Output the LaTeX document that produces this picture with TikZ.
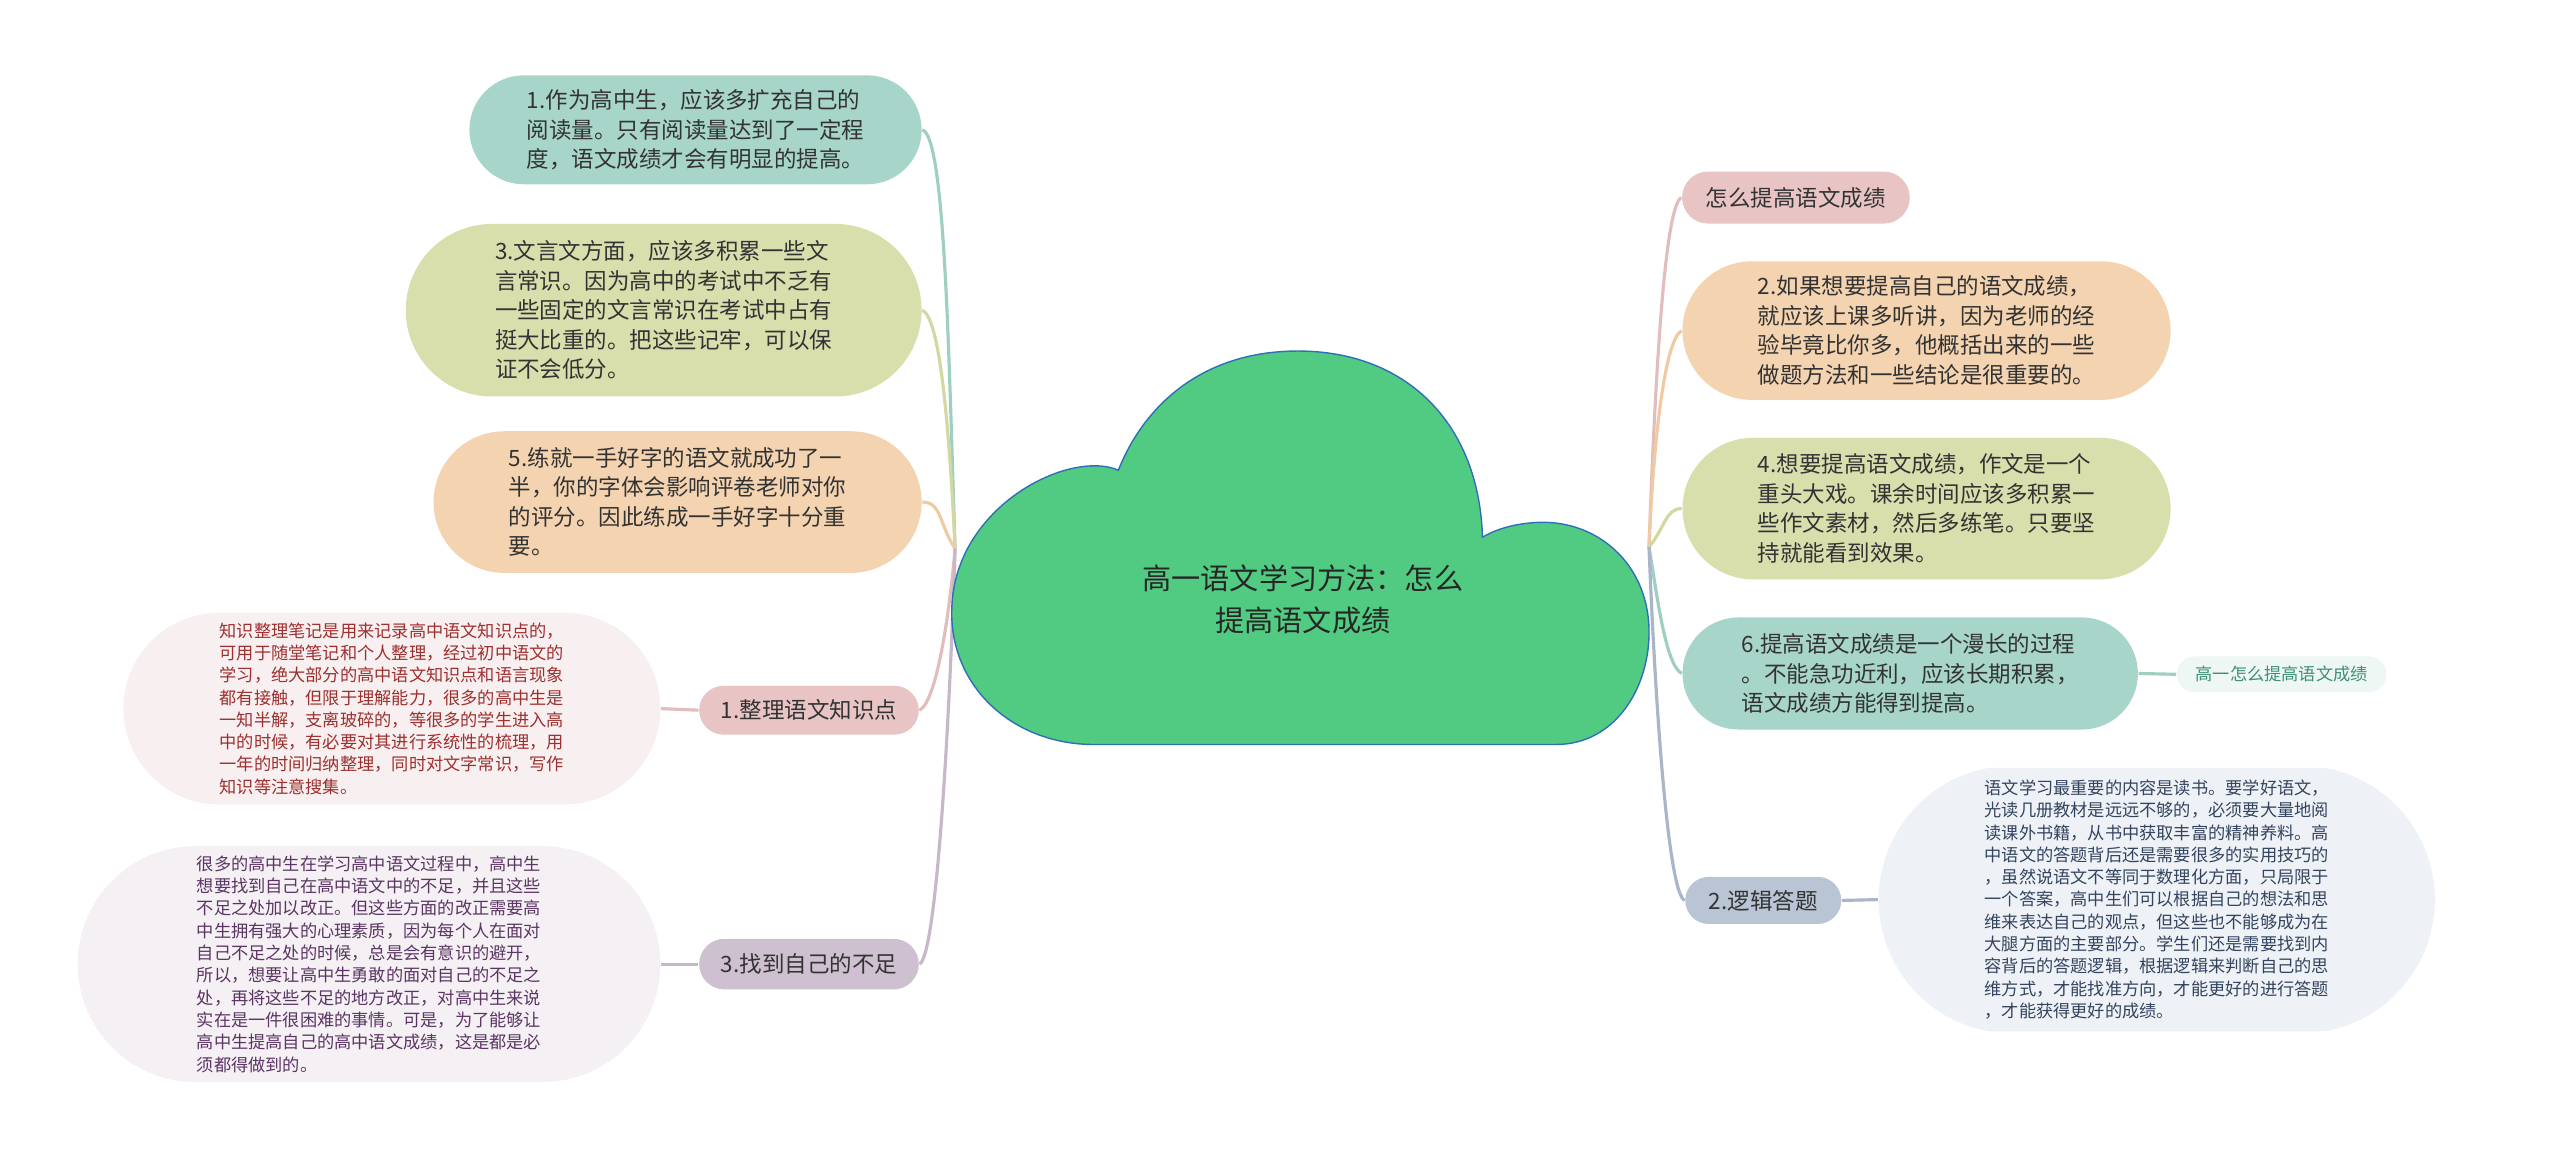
\documentclass[tikz,border=0pt]{standalone}
\usepackage{fontspec}
\newfontfamily\cjk{Noto Sans CJK SC}
\usetikzlibrary{shapes.misc,backgrounds}
\definecolor{tealfill}{HTML}{A7D5C9}
\definecolor{tealline}{HTML}{9ECFC2}
\definecolor{olivefill}{HTML}{D9DEAD}
\definecolor{oliveline}{HTML}{D3D8A3}
\definecolor{peachfill}{HTML}{F4D3B0}
\definecolor{peachline}{HTML}{EFCAA2}
\definecolor{pinkfill}{HTML}{E8C4C4}
\definecolor{pinkline}{HTML}{E2BDBD}
\definecolor{plumfill}{HTML}{CEC0D0}
\definecolor{plumline}{HTML}{C6B7C9}
\definecolor{slatefill}{HTML}{B9C4D4}
\definecolor{slateline}{HTML}{A9B5C8}
\definecolor{pinknote}{HTML}{F8F0F0}
\definecolor{pinktext}{HTML}{9E2F2F}
\definecolor{plumnote}{HTML}{F4F0F4}
\definecolor{plumtext}{HTML}{5B3563}
\definecolor{slatenote}{HTML}{EEF2F6}
\definecolor{slatetext}{HTML}{34445F}
\definecolor{tealnote}{HTML}{EEF7F4}
\definecolor{tealtext}{HTML}{3D8F78}
\definecolor{cloudgreen}{HTML}{52CB82}
\definecolor{cloudedge}{HTML}{2E6FB8}

\begin{document}
\begin{tikzpicture}[x=.1633mm,y=-.1633mm,font=\cjk,
  topic/.style={rounded rectangle,align=left,inner xsep=0pt,inner ysep=2pt,text=black!80,font=\cjk\fontsize{6.4pt}{8.4pt}\selectfont},
  note/.style={rounded rectangle,align=left,inner xsep=0pt,inner ysep=2pt,font=\cjk\fontsize{4.9pt}{6.35pt}\selectfont},
  link/.style={line width=.9pt}]
\useasboundingbox (0,0) rectangle (1568,711);
\draw[fill=cloudgreen,draw=cloudedge,line width=.4pt] (670,456) -- (953,456)
  .. controls (990,456) and (1011,420) .. (1010,385)
  .. controls (1009,345) and (978,318) .. (941,320)
  .. controls (925,321) and (915,325) .. (908,329)
  .. controls (906,260) and (862,215) .. (795,215)
  .. controls (735,215) and (700,250) .. (685,288)
  .. controls (655,275) and (585,310) .. (583,372)
  .. controls (581,420) and (620,456) .. (670,456) -- cycle;
\node[align=center,text=black!85,font=\cjk\fontsize{8.3pt}{12pt}\selectfont] (root) at (798,367) {高一语文学习方法：怎么\\提高语文成绩};
\coordinate (lhub) at (585,336);
\coordinate (rhub) at (1010,335);
\node[topic,fill=tealfill,minimum width=128.7pt,minimum height=31pt] (p1) at (426,79.5) {1.作为高中生，应该多扩充自己的\\阅读量。只有阅读量达到了一定程\\度，语文成绩才会有明显的提高。};
\node[topic,fill=olivefill,minimum width=146.8pt,minimum height=49.1pt] (p3) at (406.5,190) {3.文言文方面，应该多积累一些文\\言常识。因为高中的考试中不乏有\\一些固定的文言常识在考试中占有\\挺大比重的。把这些记牢，可以保\\证不会低分。};
\node[topic,fill=peachfill,minimum width=138.9pt,minimum height=40.3pt] (p5) at (415,307.5) {5.练就一手好字的语文就成功了一\\半，你的字体会影响评卷老师对你\\的评分。因此练成一手好字十分重\\要。};
\node[topic,fill=pinkfill,minimum width=62.5pt,minimum height=13.9pt] (k1) at (495.5,435) {1.整理语文知识点};
\node[note,fill=pinknote,text=pinktext,minimum width=152.8pt,minimum height=54.6pt] (n1) at (240,434) {知识整理笔记是用来记录高中语文知识点的，\\可用于随堂笔记和个人整理，经过初中语文的\\学习，绝大部分的高中语文知识点和语言现象\\都有接触，但限于理解能力，很多的高中生是\\一知半解，支离玻碎的，等很多的学生进入高\\中的时候，有必要对其进行系统性的梳理，用\\一年的时间归纳整理，同时对文字常识，写作\\知识等注意搜集。};
\node[topic,fill=plumfill,minimum width=62.5pt,minimum height=14.4pt] (k3) at (495.5,590.5) {3.找到自己的不足};
\node[note,fill=plumnote,text=plumtext,minimum width=165.8pt,minimum height=67.1pt] (n3) at (226,590.5) {很多的高中生在学习高中语文过程中，高中生\\想要找到自己在高中语文中的不足，并且这些\\不足之处加以改正。但这些方面的改正需要高\\中生拥有强大的心理素质，因为每个人在面对\\自己不足之处的时候，总是会有意识的避开，\\所以，想要让高中生勇敢的面对自己的不足之\\处，再将这些不足的地方改正，对高中生来说\\实在是一件很困难的事情。可是，为了能够让\\高中生提高自己的高中语文成绩，这是都是必\\须都得做到的。};
\node[topic,fill=pinkfill,minimum width=64.8pt,minimum height=14.8pt] (p0) at (1100,121) {怎么提高语文成绩};
\node[topic,fill=peachfill,minimum width=138.9pt,minimum height=39.4pt] (p2) at (1180,202.5) {2.如果想要提高自己的语文成绩，\\就应该上课多听讲，因为老师的经\\验毕竟比你多，他概括出来的一些\\做题方法和一些结论是很重要的。};
\node[topic,fill=olivefill,minimum width=138.9pt,minimum height=40.3pt] (p4) at (1180,311.5) {4.想要提高语文成绩，作文是一个\\重头大戏。课余时间应该多积累一\\些作文素材，然后多练笔。只要坚\\持就能看到效果。};
\node[topic,fill=tealfill,minimum width=129.6pt,minimum height=31.9pt] (p6) at (1170,412.5) {6.提高语文成绩是一个漫长的过程\\。不能急功近利，应该长期积累，\\语文成绩方能得到提高。};
\node[note,fill=tealnote,text=tealtext,minimum width=59.7pt,minimum height=10.2pt] (n6) at (1397.5,413) {高一怎么提高语文成绩};
\node[topic,fill=slatefill,minimum width=44.4pt,minimum height=13.4pt] (k2) at (1080,551.5) {2.逻辑答题};
\node[note,fill=slatenote,text=slatetext,rounded rectangle arc length=160,minimum width=158.3pt,minimum height=75pt] (n2) at (1321,551) {语文学习最重要的内容是读书。要学好语文，\\光读几册教材是远远不够的，必须要大量地阅\\读课外书籍，从书中获取丰富的精神养料。高\\中语文的答题背后还是需要很多的实用技巧的\\，虽然说语文不等同于数理化方面，只局限于\\一个答案，高中生们可以根据自己的想法和思\\维来表达自己的观点，但这些也不能够成为在\\大腿方面的主要部分。学生们还是需要找到内\\容背后的答题逻辑，根据逻辑来判断自己的思\\维方式，才能找准方向，才能更好的进行答题\\，才能获得更好的成绩。};
\begin{scope}[on background layer]
\fill[white] (0,0) rectangle (1568,711);
\draw[link,tealline] (p1.east) .. controls +(14,4) and +(-4,-120) .. (lhub);
\draw[link,oliveline] (p3.east) .. controls +(12,5) and +(-3,-60) .. (lhub);
\draw[link,peachline] (p5.east) .. controls +(12,0) and +(-10,-15) .. (lhub);
\draw[link,pinkline] (k1.east) .. controls +(10,-5) and +(-4,45) .. (lhub);
\draw[link,plumline] (k3.east) .. controls +(10,-5) and +(-4,120) .. (lhub);
\draw[link,pinkline] (k1.west) -- (n1.east);
\draw[link,plumline] (k3.west) -- (n3.east);
\draw[link,pinkline] (p0.west) .. controls +(-10,5) and +(4,-110) .. (rhub);
\draw[link,peachline] (p2.west) .. controls +(-10,5) and +(3,-70) .. (rhub);
\draw[link,oliveline] (p4.west) .. controls +(-10,0) and +(10,-12) .. (rhub);
\draw[link,tealline] (p6.west) .. controls +(-10,-5) and +(5,30) .. (rhub);
\draw[link,slateline] (k2.west) .. controls +(-10,-5) and +(4,100) .. (rhub);
\draw[link,tealline] (p6.east) -- (n6.west);
\draw[link,slateline] (k2.east) -- (n2.west);
\end{scope}
\end{tikzpicture}
\end{document}
